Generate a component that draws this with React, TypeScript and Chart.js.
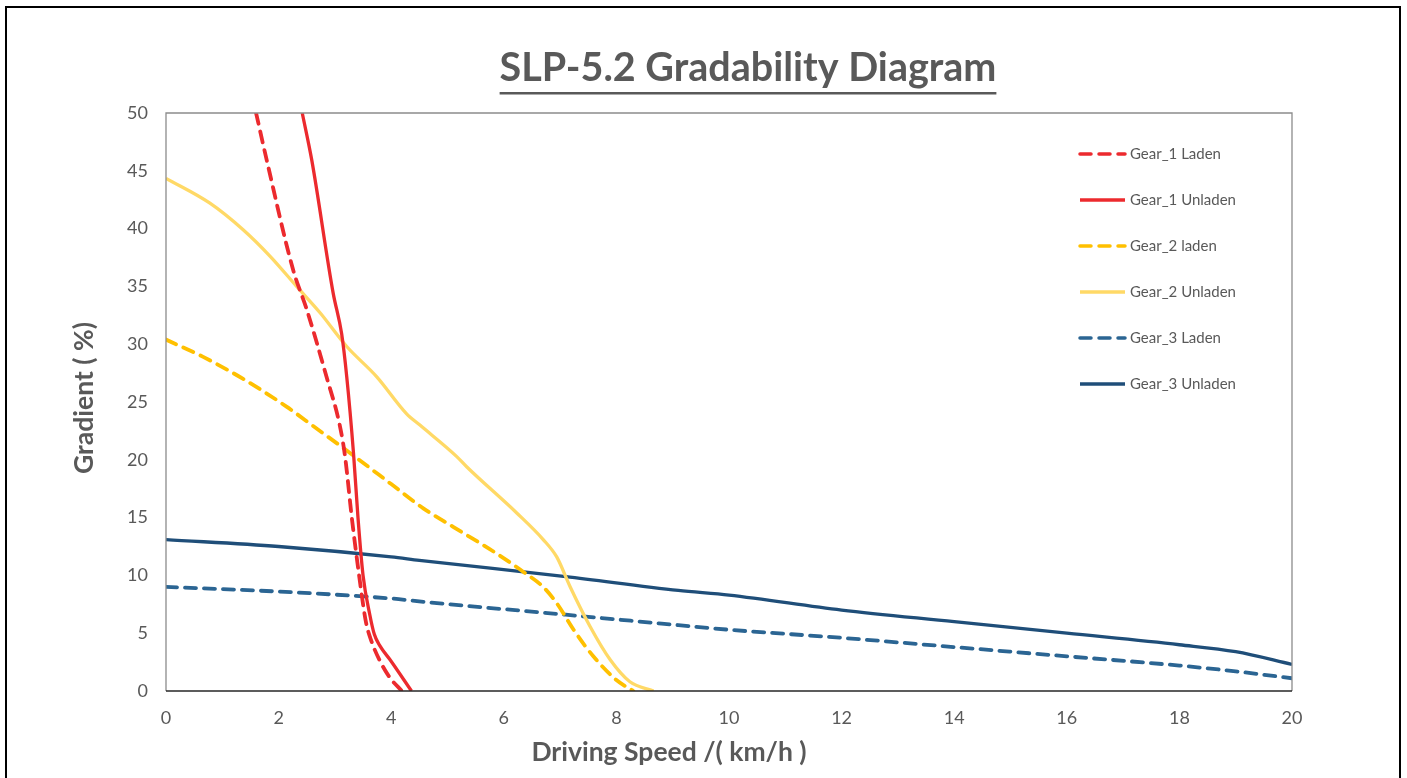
import { useEffect, useRef } from "react";
import { Chart, registerables } from "chart.js";

Chart.register(...registerables);

const TITLE = "SLP-5.2 Gradability Diagram";
const X_TITLE = "Driving Speed /( km/h )";
const Y_TITLE = "Gradient ( %)";

const seriesLabels = [
  "Gear_1 Laden",
  "Gear_1 Unladen",
  "Gear_2 laden",
  "Gear_2 Unladen",
  "Gear_3 Laden",
  "Gear_3 Unladen",
];

const gear1LadenSpeed = [1.6, 1.79, 2.26, 2.5, 2.85, 3.09, 3.18, 3.3, 3.43, 3.55, 3.65, 3.8, 3.97, 4.19];
const gear1LadenGradient = [50, 45.9, 36.4, 33, 27.2, 22.9, 20.3, 15, 10, 6, 4.3, 2.6, 1.2, 0];

const gear1UnladenSpeed = [2.42, 2.59, 2.97, 3.12, 3.21, 3.33, 3.41, 3.5, 3.62, 3.7, 3.8, 3.98, 4.36];
const gear1UnladenGradient = [50, 45.9, 34.4, 30.9, 27.2, 20.6, 15, 10, 6.6, 4.9, 3.9, 2.7, 0];

const gear2LadenSpeed = [0, 0.66, 1.37, 2.14, 2.62, 3.21, 4.0, 4.57, 5.1, 5.87, 6.35, 6.7, 6.94, 7.24, 7.59, 8.0, 8.3];
const gear2LadenGradient = [30.4, 28.9, 27.0, 24.6, 22.9, 20.8, 17.9, 15.8, 14.2, 11.9, 10.3, 9.0, 7.6, 5.3, 3.0, 0.95, 0];

const gear2UnladenSpeed = [0, 0.78, 1.37, 1.85, 2.32, 2.74, 3.21, 3.74, 4.27, 4.51, 5.16, 5.34, 6.23, 6.7, 6.94, 7.18, 7.53, 7.89, 8.24, 8.66];
const gear2UnladenGradient = [44.35, 42.2, 39.9, 37.6, 35.0, 32.7, 29.8, 27.2, 24.0, 23.0, 20.3, 19.4, 15.4, 13.1, 11.6, 9.0, 5.6, 2.7, 0.8, 0];

const gear3LadenSpeed = [0, 2, 4, 4.6, 7.1, 9.1, 10, 12, 14, 16, 18, 19, 20];
const gear3LadenGradient = [9.0, 8.6, 8.0, 7.7, 6.6, 5.7, 5.3, 4.6, 3.8, 3.0, 2.2, 1.7, 1.1];

const gear3UnladenSpeed = [0, 2, 4, 4.5, 7.1, 9.1, 10, 12, 14, 16, 18, 19, 20];
const gear3UnladenGradient = [13.1, 12.5, 11.6, 11.3, 9.9, 8.7, 8.3, 7.0, 6.0, 5.0, 4.0, 3.4, 2.3];

const xTicks = [0, 2, 4, 6, 8, 10, 12, 14, 16, 18, 20];
const yTicks = [0, 5, 10, 15, 20, 25, 30, 35, 40, 45, 50];

const zip = (xs: number[], ys: number[]) => xs.map((x, i) => ({ x, y: ys[i] }));

const FONT = "Lato, 'Open Sans', sans-serif";
const GRAY = "#595959";
const RED = "#EC2A2E";
const GOLD = "#FFC000";
const LIGHT_GOLD = "#FFD966";
const MID_BLUE = "#2B6593";
const DARK_BLUE = "#1F4E79";
const DASH = [11, 8];

const decorPlugin = {
  id: "decor",
  afterDraw(chart: any) {
    const ctx = chart.ctx as CanvasRenderingContext2D;
    const { left, right, top, bottom } = chart.chartArea;
    ctx.save();
    // plot frame
    ctx.setLineDash([]);
    ctx.strokeStyle = "#8c8c8c";
    ctx.lineWidth = 1.3;
    ctx.beginPath();
    ctx.moveTo(left, bottom);
    ctx.lineTo(left, top);
    ctx.lineTo(right, top);
    ctx.lineTo(right, bottom);
    ctx.stroke();
    ctx.strokeStyle = "#262626";
    ctx.lineWidth = 1.6;
    ctx.beginPath();
    ctx.moveTo(left, bottom);
    ctx.lineTo(right, bottom);
    ctx.stroke();

    // title
    ctx.fillStyle = GRAY;
    ctx.font = `bold 39.5px ${FONT}`;
    ctx.textAlign = "center";
    ctx.textBaseline = "alphabetic";
    const tx = 748;
    ctx.fillText(TITLE, tx, 81);
    const tw = ctx.measureText(TITLE).width;
    ctx.fillRect(tx - tw / 2, 92, tw, 2.5);

    // axis titles
    ctx.font = `bold 26.5px ${FONT}`;
    ctx.textBaseline = "middle";
    ctx.fillText(X_TITLE, 669, 752);
    ctx.save();
    ctx.translate(84, 398);
    ctx.rotate(-Math.PI / 2);
    ctx.fillText(Y_TITLE, 0, 0);
    ctx.restore();

    // legend
    ctx.font = `15px ${FONT}`;
    ctx.textAlign = "left";
    chart.data.datasets.forEach((ds: any, i: number) => {
      const y = 154 + 46 * i;
      ctx.strokeStyle = ds.borderColor;
      ctx.lineWidth = 3.5;
      ctx.lineCap = ds.borderCapStyle || "butt";
      ctx.setLineDash(ds.borderDash || []);
      ctx.beginPath();
      ctx.moveTo(1080, y);
      ctx.lineTo(1125, y);
      ctx.stroke();
      ctx.setLineDash([]);
      ctx.fillStyle = GRAY;
      ctx.fillText(ds.label, 1130, y);
    });
    ctx.restore();
  },
};

export default function App() {
  const canvasRef = useRef<HTMLCanvasElement | null>(null);

  useEffect(() => {
    document.body.style.margin = "0";
    const canvas = canvasRef.current;
    if (!canvas) return;
    Chart.defaults.font.family = FONT;

    const mk = (i: number, xs: number[], ys: number[], color: string, dashed: boolean) => ({
      label: seriesLabels[i],
      data: zip(xs, ys),
      borderColor: color,
      backgroundColor: color,
      borderWidth: dashed ? 3.8 : 3.3,
      borderDash: dashed ? DASH : [],
      borderCapStyle: dashed ? "round" : "butt",
      pointRadius: 0,
      cubicInterpolationMode: "monotone",
      fill: false,
    });

    const chart = new Chart(canvas, {
      type: "line",
      data: {
        datasets: [
          mk(0, gear1LadenSpeed, gear1LadenGradient, RED, true),
          mk(1, gear1UnladenSpeed, gear1UnladenGradient, RED, false),
          mk(2, gear2LadenSpeed, gear2LadenGradient, GOLD, true),
          mk(3, gear2UnladenSpeed, gear2UnladenGradient, LIGHT_GOLD, false),
          mk(4, gear3LadenSpeed, gear3LadenGradient, MID_BLUE, true),
          mk(5, gear3UnladenSpeed, gear3UnladenGradient, DARK_BLUE, false),
        ] as any,
      },
      options: {
        responsive: false,
        animation: false,
        layout: { padding: { top: 113, right: 115, left: 0, bottom: 0 } },
        plugins: {
          legend: { display: false },
          title: { display: false },
          tooltip: { enabled: false },
        },
        scales: {
          x: {
            type: "linear",
            min: 0,
            max: 20,
            afterBuildTicks: (s: any) => {
              s.ticks = xTicks.map((v) => ({ value: v }));
            },
            afterFit: (s: any) => {
              s.height = 87;
            },
            ticks: { color: GRAY, font: { size: 18, family: FONT }, padding: 16, maxRotation: 0 },
            grid: { display: false, drawTicks: false },
            border: { display: false },
          },
          y: {
            type: "linear",
            min: 0,
            max: 50,
            afterBuildTicks: (s: any) => {
              s.ticks = yTicks.map((v) => ({ value: v }));
            },
            afterFit: (s: any) => {
              s.width = 166;
            },
            ticks: { color: GRAY, font: { size: 18, family: FONT }, padding: 18 },
            grid: { display: false, drawTicks: false },
            border: { display: false },
          },
        },
      } as any,
      plugins: [decorPlugin],
    });
    return () => chart.destroy();
  }, []);

  return (
    <div style={{ position: "fixed", left: 0, top: 0, width: 1407, height: 778, background: "#fff", overflow: "hidden" }}>
      <canvas ref={canvasRef} width={1407} height={778} style={{ position: "absolute", left: 0, top: 0 }} />
      <div
        style={{
          position: "absolute",
          left: 5,
          top: 6,
          width: 1396,
          height: 900,
          boxSizing: "border-box",
          border: "2px solid #000",
          pointerEvents: "none",
        }}
      />
    </div>
  );
}
